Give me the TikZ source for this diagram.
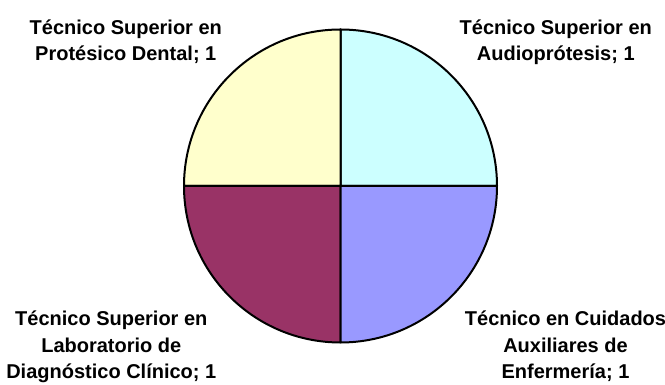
\documentclass[tikz,border=0pt]{standalone}
\usepackage{fontspec}
\setmainfont{Liberation Sans}
\usepackage{tikz}
\definecolor{audio}{HTML}{CCFFFF}
\definecolor{cuidados}{HTML}{9999FF}
\definecolor{labor}{HTML}{993366}
\definecolor{dental}{HTML}{FFFFCC}
\tikzset{%
  slice/.style    = {draw=black, line width=1pt, line join=round},%
  pielabel/.style = {align=center, inner sep=0pt, anchor=base,%
                     font=\fontsize{10}{13.3}\selectfont\bfseries}%
}
\newcommand{\pieR}{156.5}

\begin{document}
\begin{tikzpicture}[x=0.5pt,y=0.5pt]
  \useasboundingbox (0,0) rectangle (665,385);
  \coordinate (c) at (340.5,199);
  % one quarter each
  \filldraw[slice, fill=audio]    (c) -- ++(0:\pieR)   arc[start angle=0,   end angle=90,  radius=\pieR] -- cycle;
  \filldraw[slice, fill=dental]   (c) -- ++(90:\pieR)  arc[start angle=90,  end angle=180, radius=\pieR] -- cycle;
  \filldraw[slice, fill=labor]    (c) -- ++(180:\pieR) arc[start angle=180, end angle=270, radius=\pieR] -- cycle;
  \filldraw[slice, fill=cuidados] (c) -- ++(270:\pieR) arc[start angle=270, end angle=360, radius=\pieR] -- cycle;
  % base = last line
  \node[pielabel] (audiolbl)  at (555.8,324.3) {Técnico Superior en\\Audioprótesis; 1};
  \node[pielabel] (dentallbl) at (125.8,324.3) {Técnico Superior en\\Protésico Dental; 1};
  \node[pielabel] (laborlbl)  at (111.3,6)     {Técnico Superior en\\Laboratorio de\\Diagnóstico Clínico; 1};
  \node[pielabel] (cuidlbl)   at (565.5,6)     {Técnico en Cuidados\\Auxiliares de\\Enfermería; 1};
\end{tikzpicture}
\end{document}
